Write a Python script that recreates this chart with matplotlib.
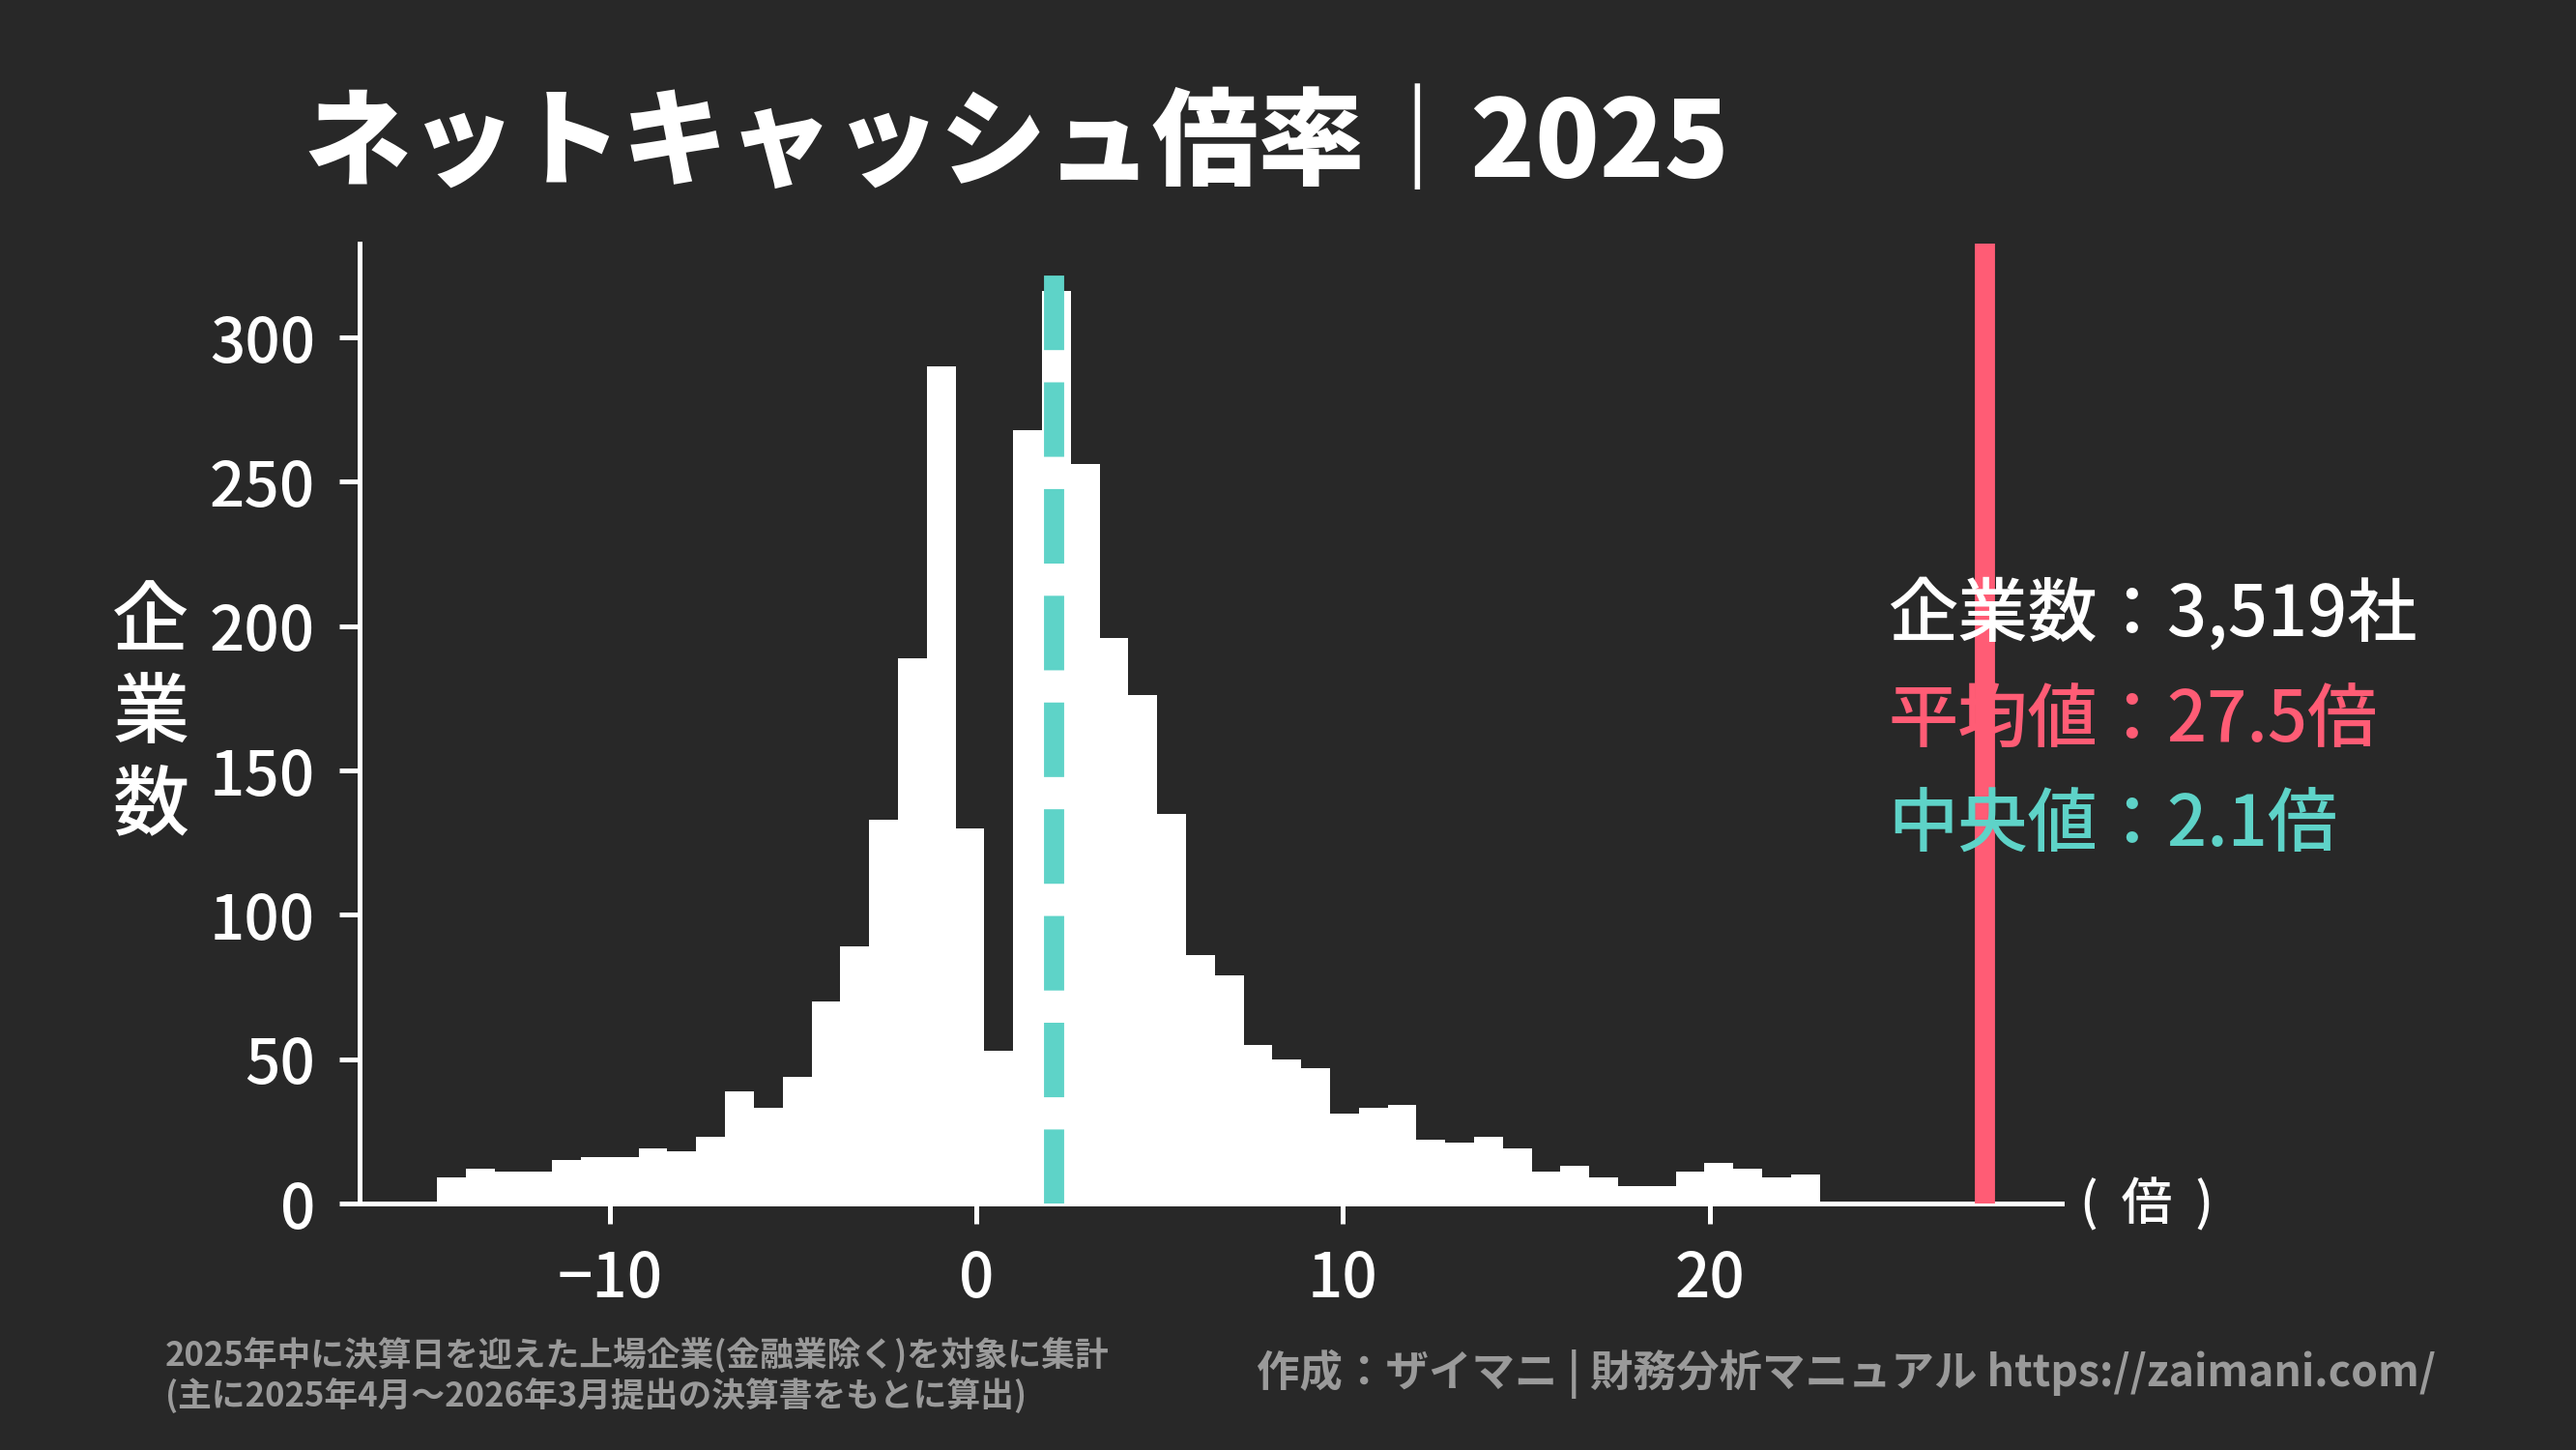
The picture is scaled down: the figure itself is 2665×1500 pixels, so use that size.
import numpy as np
import matplotlib
matplotlib.use("Agg")
import matplotlib.pyplot as plt

# ── Palette / fonts ──────────────────────────────────────────────────────────
BG = "#282828"
FG = "#FFFFFF"
C_MEAN = "#FF5C75"
C_MED = "#5ED3C8"
C_NOTE = "#9A9A9A"
JP = ["Noto Sans CJK JP", "DejaVu Sans"]
plt.rcParams["font.family"] = JP

# ── Data ─────────────────────────────────────────────────────────────────────
bin_start = -14.72
bin_width = 0.786
counts = [9, 12, 11, 11, 15, 16, 16, 19, 18, 23, 39, 33, 44, 70, 89, 133,
          189, 290, 130, 53, 268, 316, 256, 196, 176, 135, 86, 79, 55, 50, 47,
          31, 33, 34, 22, 21, 23, 19, 11, 13, 9, 6, 6, 11, 14, 12, 9, 10]
n_companies = 3519
mean_val = 27.5
median_val = 2.1

edges = bin_start + bin_width * np.arange(len(counts) + 1)

fig = plt.figure(figsize=(26.65, 15), dpi=100, facecolor=BG)
ax = fig.add_axes([0.1396, 0.17, 0.6608, 0.662], facecolor=BG)

ax.bar(edges[:-1], counts, width=np.diff(edges), align="edge",
       color=FG, edgecolor="none", linewidth=0, zorder=2)
ax.axvline(median_val, color=C_MED, lw=15, ls="--", zorder=3)
ax.axvline(mean_val, color=C_MEAN, lw=15, zorder=3)

ax.set_xlim(-16.83, 29.61)
ax.set_ylim(0, 332.5)
ax.set_yticks([0, 50, 100, 150, 200, 250, 300])
ax.set_xticks([-10, 0, 10, 20])

for s in ("top", "right"):
    ax.spines[s].set_visible(False)
for s in ("left", "bottom"):
    ax.spines[s].set_color(FG)
    ax.spines[s].set_linewidth(3.6)
ax.tick_params(colors=FG, labelcolor=FG, labelsize=46, length=15, width=3.6,
               pad=18)
for t in ax.get_xticklabels() + ax.get_yticklabels():
    t.set_fontweight("medium")

# ── Texts ────────────────────────────────────────────────────────────────────
fig.text(0.118, 0.899, "ネットキャッシュ倍率｜2025", color=FG, fontsize=79,
         fontweight="black", ha="left", va="center")

fig.text(0.0585, 0.507, "企\n業\n数", color=FG, fontsize=57,
         fontweight="medium", ha="center", va="center", linespacing=1.22)

fig.text(0.8075, 0.1687, "(  倍  )", color=FG, fontsize=38,
         fontweight="medium", ha="left", va="center")

fig.text(0.733, 0.576, f"企業数：{n_companies:,}社", color=FG, fontsize=52,
         fontweight="medium", ha="left", va="center")
fig.text(0.733, 0.503, f"平均値：{mean_val}倍", color=C_MEAN, fontsize=52,
         fontweight="medium", ha="left", va="center")
fig.text(0.733, 0.430, f"中央値：{median_val}倍", color=C_MED, fontsize=52,
         fontweight="medium", ha="left", va="center")

fig.text(0.064, 0.0647, "2025年中に決算日を迎えた上場企業(金融業除く)を対象に集計",
         color=C_NOTE, fontsize=25, fontweight="bold", ha="left", va="center")
fig.text(0.064, 0.0367, "(主に2025年4月～2026年3月提出の決算書をもとに算出)",
         color=C_NOTE, fontsize=25, fontweight="bold", ha="left", va="center")
fig.text(0.9456, 0.0527, "作成：ザイマニ | 財務分析マニュアル https://zaimani.com/",
         color=C_NOTE, fontsize=32, fontweight="bold", ha="right", va="center")

fig.savefig("out.png", dpi=100, facecolor=BG)
plt.close(fig)
